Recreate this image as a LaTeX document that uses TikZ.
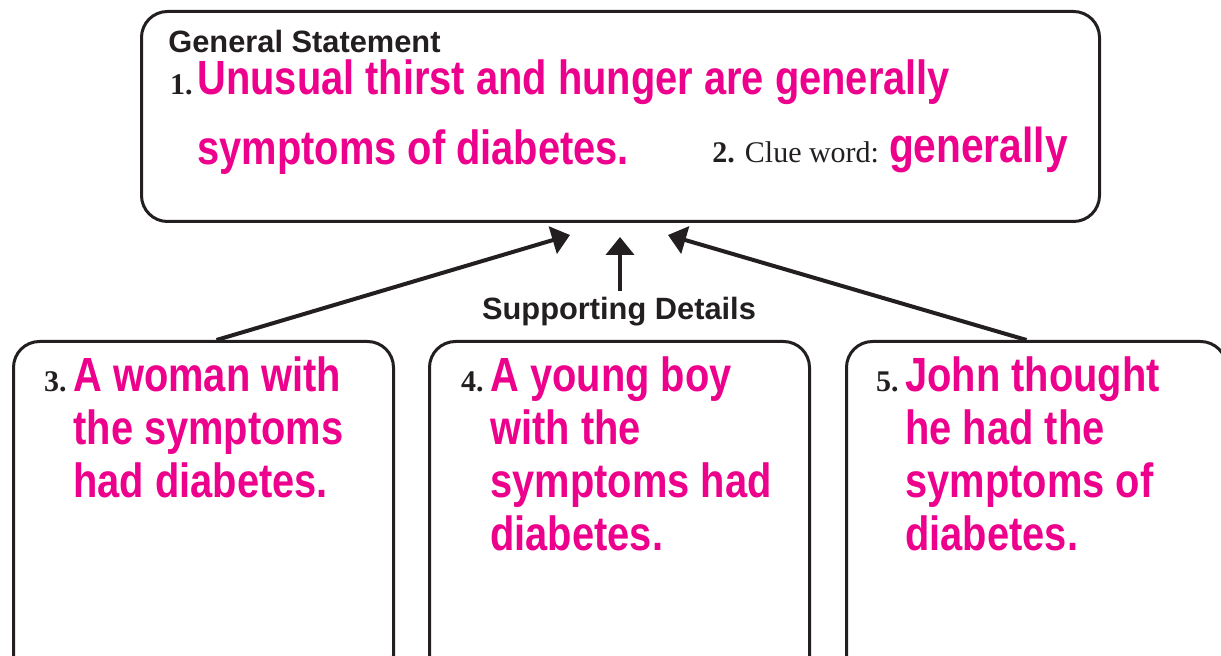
\documentclass[tikz,border=0pt]{standalone}
\usepackage{fontspec}
\setmainfont{Liberation Serif}
\setsansfont{Liberation Sans}
\newfontfamily\condfont[FakeStretch=0.83]{Liberation Sans}
\usetikzlibrary{positioning,arrows.meta}
\definecolor{ink}{RGB}{35,31,32}
\definecolor{hotpink}{RGB}{236,0,140}
\tikzset{>={Triangle[length=9pt,width=14pt]},
  box/.style={draw=ink,line width=1.5pt,rounded corners=13pt,anchor=north west,inner sep=0pt},
  answer/.style={text=hotpink,anchor=base west,align=left,inner sep=0pt,
    font=\condfont\bfseries\fontsize{24}{26.5}\selectfont},
  num/.style={text=ink,anchor=base east,inner sep=0pt,font=\bfseries\fontsize{15}{17}\selectfont},
  head/.style={text=ink,inner sep=0pt,font=\sffamily\bfseries\fontsize{15.4}{17}\selectfont},
  link/.style={->,draw=ink,line width=2pt}}
\newcommand*{\pk}[1]{{\color{hotpink}\condfont\bfseries\fontsize{24.5}{27}\selectfont #1}}

\begin{document}
\begin{tikzpicture}[x=0.5pt,y=-0.5pt]
\useasboundingbox (0,0) rectangle (1221,656);
\clip (0,0) rectangle (1221,656);
\node[box,minimum width=479pt,minimum height=105pt] (topbox) at (140,10) {};
\node[box,minimum width=190pt,minimum height=170pt] (leftbox) at (12,340) {};
\node[box,minimum width=190pt,minimum height=170pt] (midbox) at (428,340) {};
\node[box,minimum width=190pt,minimum height=170pt] (rightbox) at (845,340) {};

% multi-line nodes sit on the baseline of their last line
\node[head,anchor=base west] (general) at (168,53) {General Statement};
\node[num] (n1) at (193,95) {1.};
\node[answer,font=\condfont\bfseries\fontsize{24}{35}\selectfont] (stmt) at (197,165)
  {Unusual thirst and hunger are generally\\symptoms of diabetes.};
\node[anchor=base west,inner sep=0pt,text=ink,font=\fontsize{15}{17}\selectfont] (clue) at (712,163)
  {\textbf{2.} Clue word: \pk{generally}};

\node[num] (n3) at (67,392) {3.};
\node[answer] (woman) at (73,498) {A woman with\\the symptoms\\had diabetes.};
\node[num] (n4) at (484,392) {4.};
\node[answer] (boy) at (490,551) {A young boy\\with the\\symptoms had\\diabetes.};
\node[num] (n5) at (899,392) {5.};
\node[answer] (john) at (905,551) {John thought\\he had the\\symptoms of\\diabetes.};

\node[head,anchor=base] (support) at (619,320) {Supporting Details};
\coordinate (tipL) at (570,235);
\coordinate (tipM) at (620,237);
\coordinate (tipR) at (668,235);
\draw[link] ([xshift=6.5pt]leftbox.north) -- (tipL);
\draw[link] ([yshift=3pt]support.north -| tipM) -- (tipM);
\draw[link] ([xshift=-5pt]rightbox.north) -- (tipR);
\end{tikzpicture}
\end{document}
